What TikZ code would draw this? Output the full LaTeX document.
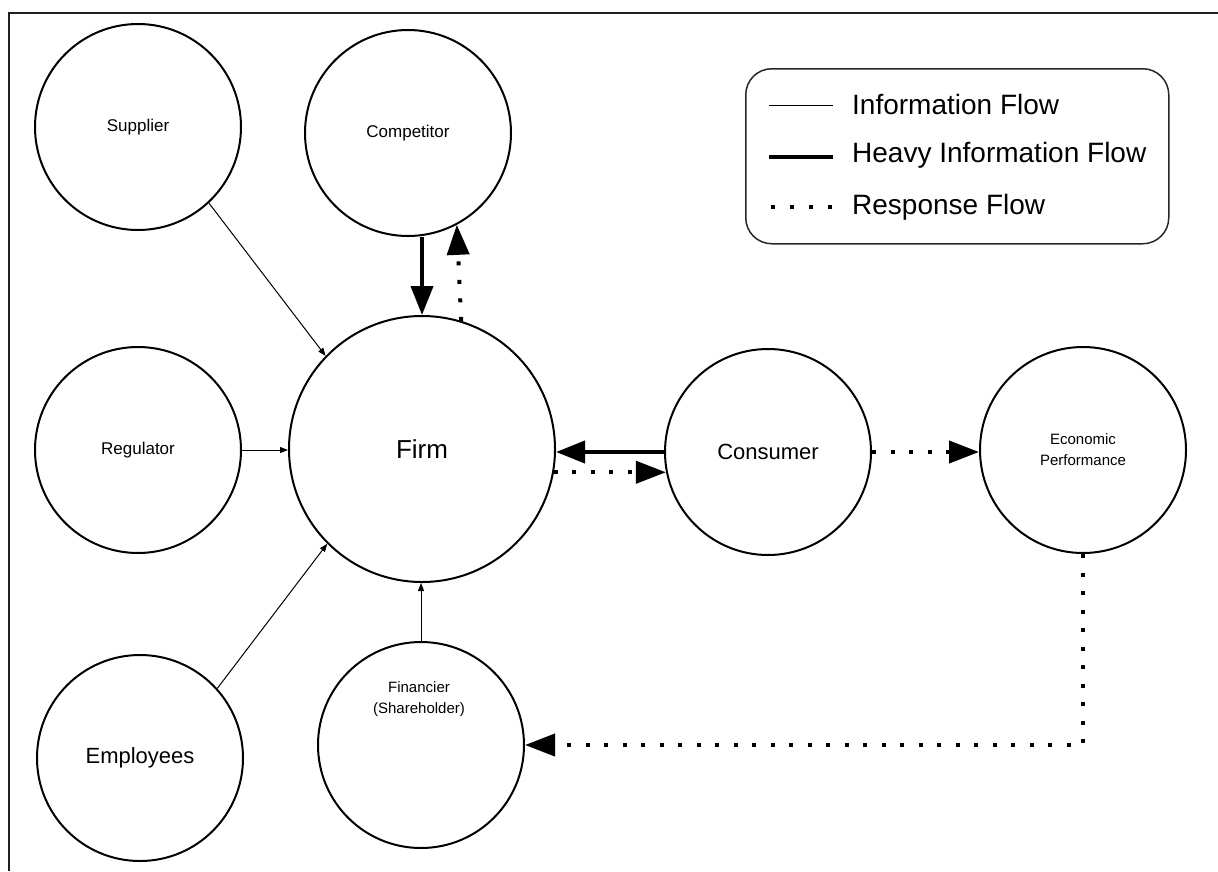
\documentclass[tikz,border=0pt]{standalone}
\usepackage{fontspec}
\setmainfont{Liberation Sans}
\usetikzlibrary{arrows.meta}
\begin{document}
\begin{tikzpicture}[x=1pt,y=-1pt,
  ent/.style={circle,draw=black,line width=2pt,inner sep=0pt,minimum size=206pt,align=center,
    font=\fontsize{17}{21}\selectfont},
  bigent/.style={ent,minimum size=266pt,font=\fontsize{26}{30}\selectfont},
  midfont/.style={font=\fontsize{22}{26}\selectfont},
  tinyfont/.style={font=\fontsize{15}{21}\selectfont},
  info/.style={line width=1pt,-{Triangle[length=8pt,width=6pt]}},
  heavy/.style={line width=4pt,-{Triangle[length=29pt,width=22pt]}},
  resp/.style={line width=4pt,dash pattern=on 4pt off 14.5pt,-{Triangle[length=30pt,width=22pt]}},
  legtext/.style={anchor=west,inner sep=0pt,font=\fontsize{28}{32}\selectfont},
  frameline/.style={line width=2pt,draw=black!88}
]
\useasboundingbox (0,0) rectangle (1218,871);
% frame (top and left edges)
\coordinate (fa) at (1218,13);
\coordinate (fb) at (9,13);
\coordinate (fc) at (9,871);
\draw[frameline] (fa) -- (fb) -- (fc);

% entities
\node[ent] (sup) at (138,127) {Supplier};
\node[ent] (comp) at (408,133) {Competitor};
\node[ent] (reg) at (138,450) {Regulator};
\node[ent,midfont] (emp) at (140,758) {Employees};
\node[bigent] (firm) at (422,449) {Firm};
\node[ent] (fin) at (421,745) {};
\node[tinyfont,align=center,inner sep=0pt] (finlabel) at (419,699) {Financier\\(Shareholder)};
\node[ent,midfont] (cons) at (768,452) {Consumer};
\node[ent,tinyfont] (econ) at (1083,450) {Economic\\Performance};

% information flows
\draw[info] (sup.-47) -- (firm.136);
\draw[info] (reg.east) -- (reg.east -| firm.west);
\draw[info] (emp.42) -- (firm.225);
\draw[info] (fin.north) -- (fin.north |- firm.south);

% heavy flows
\draw[heavy] (firm.north |- comp.south) -- (firm.north);
\draw[heavy] (cons.west) -- (cons.west -| firm.east);

% response flows
\draw[resp] (firm.73) -- (comp.-62);
\draw[resp] (firm.-10.4) -- (firm.-10.4 -| cons.191.5);
\draw[resp] (cons.east) -- (cons.east -| econ.west);
\coordinate (corner) at (econ.south |- fin.east);
\draw[resp] (econ.south) -- (corner) -- (fin.east);

% legend
\node[draw=black!85,line width=1.5pt,rounded corners=26pt,minimum width=423pt,minimum height=175pt,
  anchor=north west] (legend) at (745,68) {};
\coordinate (l1a) at (769,105);
\coordinate (l1b) at (833,105);
\coordinate (l2a) at (769,157);
\coordinate (l2b) at (833,157);
\coordinate (l3a) at (771,207);
\coordinate (l3b) at (833,207);
\draw[line width=1pt] (l1a) -- (l1b);
\draw[line width=4pt] (l2a) -- (l2b);
\draw[line width=4pt,dash pattern=on 4pt off 15pt] (l3a) -- (l3b);
\node[legtext] (t1) at (852,104) {Information Flow};
\node[legtext] (t2) at (852,155) {Heavy Information Flow};
\node[legtext] (t3) at (852,207) {Response Flow};
\end{tikzpicture}
\end{document}
